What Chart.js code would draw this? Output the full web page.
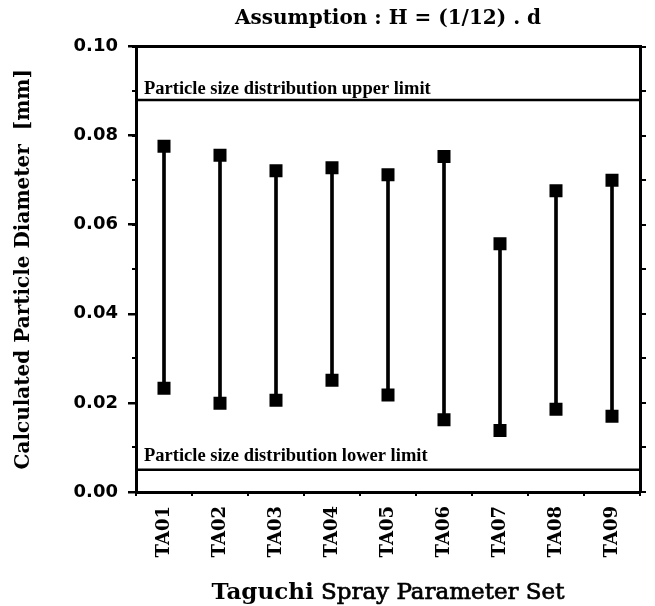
<!DOCTYPE html>
<html><head><meta charset="utf-8">
<script src="https://cdn.jsdelivr.net/npm/chart.js@4"></script>
<style>html,body{margin:0;padding:0;background:#fff}#wrap{width:655px;height:606px}</style>
</head><body><div id="wrap"><canvas id="c" width="655" height="606"></canvas></div>
<script>
const categories = ['TA01','TA02','TA03','TA04','TA05','TA06','TA07','TA08','TA09'];
const upperValues = [0.0776, 0.0756, 0.0721, 0.0728, 0.0712, 0.0753, 0.0557, 0.0676, 0.0700];
const lowerValues = [0.0233, 0.0199, 0.0206, 0.0251, 0.0218, 0.0162, 0.0138, 0.0186, 0.0170];
const yTickLabels = ['0.00','0.02','0.04','0.06','0.08','0.10'];
const limitValues = [0.088, 0.005];
const limitLabels = ['Particle size distribution upper limit', 'Particle size distribution lower limit'];
const chartTitle = 'Assumption : H = (1/12) . d';
const yTitle = 'Calculated Particle Diameter  [mm]';
const xTitleParts = ['Taguchi', ' Spray Parameter Set'];

const limitPlugin = {
  id: 'limits',
  afterDatasetsDraw(chart) {
    const {ctx, chartArea: a, scales: {y}} = chart;
    const gaps = [6, 9];
    limitValues.forEach((v, i) => {
      const py = y.getPixelForValue(v);
      ctx.save();
      ctx.strokeStyle = '#000'; ctx.lineWidth = 2.5;
      ctx.beginPath(); ctx.moveTo(a.left, py); ctx.lineTo(a.right, py); ctx.stroke();
      ctx.font = 'bold 18.5px "Liberation Serif"';
      ctx.fillStyle = '#000'; ctx.textBaseline = 'alphabetic'; ctx.textAlign = 'left';
      ctx.fillText(limitLabels[i], a.left + 8, py - gaps[i]);
      ctx.restore();
    });
  },
  afterDraw(chart) {
    const {ctx, chartArea: a} = chart;
    ctx.save();
    const f1 = 'bold 23px "DejaVu Serif"', f2 = '23px "DejaVu Serif"';
    ctx.font = f1; const w1 = ctx.measureText(xTitleParts[0]).width;
    ctx.font = f2; const w2 = ctx.measureText(xTitleParts[1]).width;
    const x0 = (a.left + a.right) / 2 - (w1 + w2) / 2;
    ctx.fillStyle = '#000'; ctx.strokeStyle = '#000'; ctx.textBaseline = 'alphabetic'; ctx.textAlign = 'left';
    ctx.font = f1; ctx.fillText(xTitleParts[0], x0, 599);
    ctx.font = f2; ctx.lineWidth = 0.7;
    ctx.fillText(xTitleParts[1], x0 + w1, 599);
    ctx.strokeText(xTitleParts[1], x0 + w1, 599);
    ctx.restore();
  }
};

new Chart(document.getElementById('c'), {
  data: {
    labels: categories,
    datasets: [
      {type: 'bar', data: categories.map((c, i) => [lowerValues[i], upperValues[i]]),
       backgroundColor: '#000', barThickness: 3, borderWidth: 0, order: 2},
      {type: 'line', data: upperValues, showLine: false, pointStyle: 'rect', pointRadius: 9.2,
       pointBackgroundColor: '#000', pointBorderWidth: 0, order: 1},
      {type: 'line', data: lowerValues, showLine: false, pointStyle: 'rect', pointRadius: 9.2,
       pointBackgroundColor: '#000', pointBorderWidth: 0, order: 1}
    ]
  },
  options: {
    responsive: false, animation: false, devicePixelRatio: 1,
    layout: {padding: 0},
    plugins: {
      legend: {display: false}, tooltip: {enabled: false},
      title: {display: true, text: chartTitle, fullSize: false, color: '#000',
              font: {family: 'DejaVu Serif', weight: 'bold', size: 20}, padding: {top: 7, bottom: 15.5}}
    },
    scales: {
      x: {type: 'category', offset: true, position: 'bottom',
          grid: {offset: true, drawOnChartArea: false, drawTicks: true, tickLength: 4, color: '#000', lineWidth: 2},
          border: {display: true, color: '#000', width: 3},
          ticks: {autoSkip: false, minRotation: 90, maxRotation: 90, padding: 10, color: '#000',
                  font: {family: 'DejaVu Serif', weight: 'bold', size: 18}},
          afterFit(s) { s.height = 114; }},
      xTop: {type: 'category', position: 'top', offset: true,
             ticks: {display: false}, grid: {display: false},
             border: {display: true, color: '#000', width: 3},
             afterFit(s) { s.height = 0; }},
      y: {position: 'left', weight: 1, min: 0, max: 0.1,
          ticks: {stepSize: 0.02, padding: 10, color: '#000',
                  font: {family: 'DejaVu Sans', weight: 'bold', size: 18},
                  callback: (v, i) => yTickLabels[i]},
          grid: {drawOnChartArea: false, tickLength: 8, color: '#000', lineWidth: 2.5},
          border: {color: '#000', width: 3},
          title: {display: true, text: yTitle, color: '#000',
                  font: {family: 'DejaVu Serif', weight: 'bold', size: 20}, padding: {top: 12, bottom: 0}},
          afterFit(s) { s.width = 136; }},
      yMinor: {position: 'left', weight: 0, min: 0, max: 0.1,
               ticks: {display: false, stepSize: 0.01},
               grid: {drawOnChartArea: false, tickLength: 4, color: '#000', lineWidth: 2},
               border: {display: false},
               afterFit(s) { s.width = 0; }},
      y2: {position: 'right', min: 0, max: 0.1,
           ticks: {display: false, stepSize: 0.01},
           grid: {drawOnChartArea: false, tickLength: 6, color: '#000', lineWidth: 2},
           border: {color: '#000', width: 3},
           afterFit(s) { s.width = 15; }}
    }
  },
  plugins: [limitPlugin]
});
</script>
</body></html>
